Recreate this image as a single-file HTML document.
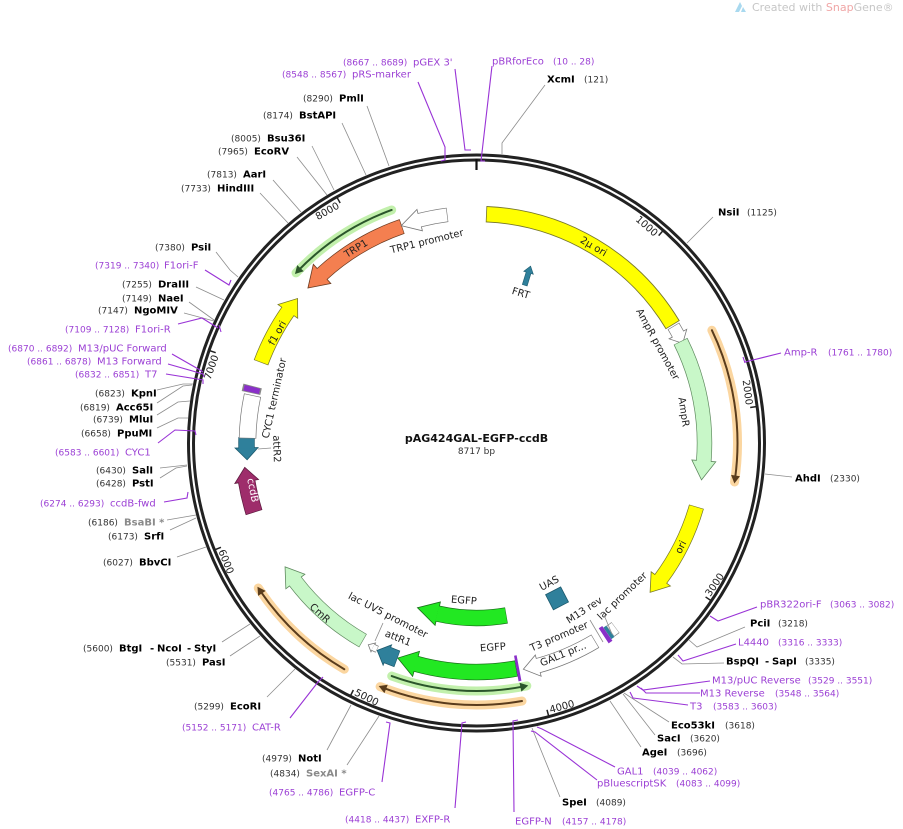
<!DOCTYPE html>
<html><head><meta charset="utf-8"><style>
html,body{margin:0;padding:0;background:#fff}
svg{display:block}
.n{font-size:9px;fill:#333}
.e{font-size:10px;font-weight:bold;fill:#000}
.g{font-size:10px;font-weight:bold;fill:#8a8a8a}
.p{font-size:10px;fill:#9b3fd4}
.q{font-size:9px;fill:#9b3fd4}
.f{font-size:10px;fill:#222}
.ln{stroke:#8c8c8c;stroke-width:0.8;fill:none}
.pl{stroke:#9933d6;stroke-width:1.1;fill:none}
</style></head><body>
<svg xmlns="http://www.w3.org/2000/svg" width="903" height="829" viewBox="0 0 903 829" font-family="'DejaVu Sans','Liberation Sans',sans-serif">
<rect width="903" height="829" fill="#fff"/>

<!-- watermark -->
<polygon points="735,12 740,2 742,6 739,12" fill="#a9d9ef"/>
<polygon points="741,12 743,7 746,12" fill="#a9d9ef"/>
<text x="752" y="11" font-size="11" fill="#c6c6c6">Created with <tspan fill="#f0a6a6">Snap</tspan>Gene®</text>

<!-- ring -->
<circle cx="476.5" cy="443" r="288" fill="none" stroke="#222" stroke-width="3"/>
<circle cx="476.5" cy="443" r="283" fill="none" stroke="#222" stroke-width="3"/>
<line x1="476.5" y1="159" x2="476.5" y2="170" stroke="#111" stroke-width="2.2"/>

<!-- ticks top -->
<g stroke="#222" stroke-width="1.5">
<g transform="rotate(41.3 476.5 443)"><line x1="476.5" y1="160" x2="476.5" y2="167"/></g>
<g transform="rotate(82.6 476.5 443)"><line x1="476.5" y1="160" x2="476.5" y2="167"/></g>
<g transform="rotate(289.1 476.5 443)"><line x1="476.5" y1="160" x2="476.5" y2="167"/></g>
<g transform="rotate(330.4 476.5 443)"><line x1="476.5" y1="160" x2="476.5" y2="167"/></g>
<g transform="rotate(-56.1 476.5 443)"><line x1="476.5" y1="726" x2="476.5" y2="719"/></g>
<g transform="rotate(-14.8 476.5 443)"><line x1="476.5" y1="726" x2="476.5" y2="719"/></g>
<g transform="rotate(26.5 476.5 443)"><line x1="476.5" y1="726" x2="476.5" y2="719"/></g>
<g transform="rotate(67.8 476.5 443)"><line x1="476.5" y1="726" x2="476.5" y2="719"/></g>
</g>
<g class="f">
<g transform="rotate(41.3 476.5 443)"><text x="474" y="171" text-anchor="end">1000</text></g>
<g transform="rotate(82.6 476.5 443)"><text x="474" y="171" text-anchor="end">2000</text></g>
<g transform="rotate(289.1 476.5 443)"><text x="474" y="171" text-anchor="end">7000</text></g>
<g transform="rotate(330.4 476.5 443)"><text x="474" y="171" text-anchor="end">8000</text></g>
<g transform="rotate(-56.1 476.5 443)"><text x="479" y="723">3000</text></g>
<g transform="rotate(-14.8 476.5 443)"><text x="479" y="723">4000</text></g>
<g transform="rotate(26.5 476.5 443)"><text x="479" y="723">5000</text></g>
<g transform="rotate(67.8 476.5 443)"><text x="479" y="723">6000</text></g>
</g>

<!-- highlight arcs -->
<g fill="none" stroke-linecap="round">
<circle cx="476.5" cy="443" r="261" pathLength="360" stroke="#fbd6a0" stroke-width="9" stroke-dasharray="34.2 720" transform="rotate(-25.6 476.5 443)"/>
<circle cx="476.5" cy="443" r="261" pathLength="360" stroke="#5a3c1c" stroke-width="2" stroke-dasharray="33.4 720" transform="rotate(-25.6 476.5 443)"/>
<circle cx="476.5" cy="443" r="262" pathLength="360" stroke="#fbd6a0" stroke-width="9" stroke-dasharray="31.6 720" transform="rotate(80 476.5 443)"/>
<circle cx="476.5" cy="443" r="262" pathLength="360" stroke="#5a3c1c" stroke-width="2" stroke-dasharray="30.8 720" transform="rotate(80 476.5 443)"/>
<circle cx="476.5" cy="443" r="262" pathLength="360" stroke="#fbd6a0" stroke-width="9" stroke-dasharray="26.1 720" transform="rotate(120.3 476.5 443)"/>
<circle cx="476.5" cy="443" r="262" pathLength="360" stroke="#5a3c1c" stroke-width="2" stroke-dasharray="25.3 720" transform="rotate(120.3 476.5 443)"/>
<circle cx="476.5" cy="443" r="248" pathLength="360" stroke="#c2f0ac" stroke-width="9" stroke-dasharray="31.7 720" transform="rotate(78.3 476.5 443)"/>
<circle cx="476.5" cy="443" r="248" pathLength="360" stroke="#2b552b" stroke-width="2" stroke-dasharray="31 720" transform="rotate(79 476.5 443)"/>
<circle cx="476.5" cy="443" r="248" pathLength="360" stroke="#c2f0ac" stroke-width="9" stroke-dasharray="26.7 720" transform="rotate(223.3 476.5 443)"/>
<circle cx="476.5" cy="443" r="248" pathLength="360" stroke="#2b552b" stroke-width="2" stroke-dasharray="26 720" transform="rotate(224 476.5 443)"/>
</g>
<g transform="rotate(98.6 476.5 443)"><polygon points="478,182 470,177.5 470,186.5" fill="#5a3c1c"/></g>
<g transform="rotate(201.6 476.5 443)"><polygon points="478,181 470,176.5 470,185.5" fill="#5a3c1c"/></g>
<g transform="rotate(236.4 476.5 443)"><polygon points="478,181 470,176.5 470,185.5" fill="#5a3c1c"/></g>
<g transform="rotate(168.3 476.5 443)"><polygon points="475,195 483,190.5 483,199.5" fill="#2b552b"/></g>
<g transform="rotate(313.3 476.5 443)"><polygon points="475,195 483,190.5 483,199.5" fill="#2b552b"/></g>

<!-- features -->
<g fill="none">
<!-- 2u ori -->
<circle cx="476.5" cy="443" r="229" pathLength="360" stroke="#77772a" stroke-width="16.4" stroke-dasharray="56.6 720" transform="rotate(-87.6 476.5 443)"/>
<circle cx="476.5" cy="443" r="229" pathLength="360" stroke="#ffff00" stroke-width="14.6" stroke-dasharray="56.2 720" transform="rotate(-87.4 476.5 443)"/>
</g>
<!-- AmpR promoter -->
<g transform="rotate(61.6 476.5 443)"><polygon points="476.5,204 476.5,224 486.9,214.2" fill="#fff" stroke="#777" stroke-width="0.8"/></g>
<circle cx="476.5" cy="443" r="229" pathLength="360" fill="none" stroke="#777" stroke-width="13.4" stroke-dasharray="2.4 720" transform="rotate(-30.7 476.5 443)"/>
<circle cx="476.5" cy="443" r="229" pathLength="360" fill="none" stroke="#fff" stroke-width="12" stroke-dasharray="2.4 720" transform="rotate(-30.55 476.5 443)"/>
<!-- AmpR -->
<g transform="rotate(94.5 476.5 443)"><polygon points="476.5,203 476.5,227 495.6,215.8" fill="#c8f7c8" stroke="#5f8a5f" stroke-width="0.8"/></g>
<circle cx="476.5" cy="443" r="228" pathLength="360" fill="none" stroke="#5f8a5f" stroke-width="15.4" stroke-dasharray="31 720" transform="rotate(-26.5 476.5 443)"/>
<circle cx="476.5" cy="443" r="228" pathLength="360" fill="none" stroke="#c8f7c8" stroke-width="14" stroke-dasharray="31.05 720" transform="rotate(-26.35 476.5 443)"/>
<!-- ori -->
<g transform="rotate(126.4 476.5 443)"><polygon points="476.5,202 476.5,226 493.7,214.65" fill="#ffff00" stroke="#77772a" stroke-width="0.8"/></g>
<circle cx="476.5" cy="443" r="229" pathLength="360" fill="none" stroke="#77772a" stroke-width="15.4" stroke-dasharray="20.25 720" transform="rotate(16.15 476.5 443)"/>
<circle cx="476.5" cy="443" r="229" pathLength="360" fill="none" stroke="#ffff00" stroke-width="14" stroke-dasharray="20.3 720" transform="rotate(16.3 476.5 443)"/>
<!-- GAL1 pr -->
<g transform="rotate(164.5 476.5 443)"><polygon points="476.5,201 476.5,223 491.8,212.5" fill="#fff" stroke="#777" stroke-width="0.8"/></g>
<circle cx="476.5" cy="443" r="231" pathLength="360" fill="none" stroke="#777" stroke-width="15.4" stroke-dasharray="15.45 720" transform="rotate(59.05 476.5 443)"/>
<circle cx="476.5" cy="443" r="231" pathLength="360" fill="none" stroke="#fff" stroke-width="14" stroke-dasharray="15.5 720" transform="rotate(59.2 476.5 443)"/>
<!-- small features near 145 -->
<circle cx="476.5" cy="443" r="231" pathLength="360" fill="none" stroke="#888" stroke-width="13.4" stroke-dasharray="1.6 720" transform="rotate(53 476.5 443)"/>
<circle cx="476.5" cy="443" r="231" pathLength="360" fill="none" stroke="#fff" stroke-width="12" stroke-dasharray="1.4 720" transform="rotate(53.1 476.5 443)"/>
<circle cx="476.5" cy="443" r="231" pathLength="360" fill="none" stroke="#2f809b" stroke-width="14" stroke-dasharray="0.9 720" transform="rotate(54.6 476.5 443)"/>
<circle cx="476.5" cy="443" r="231" pathLength="360" fill="none" stroke="#8a2fc9" stroke-width="18" stroke-dasharray="1.1 720" transform="rotate(55.5 476.5 443)"/>
<!-- EGFP outer -->
<g transform="rotate(195.3 476.5 443)"><polygon points="476.5,201 476.5,227 495.7,214.8" fill="#22e822" stroke="#1a701a" stroke-width="0.8"/></g>
<circle cx="476.5" cy="443" r="229" pathLength="360" fill="none" stroke="#1a701a" stroke-width="16.4" stroke-dasharray="25.35 720" transform="rotate(79.95 476.5 443)"/>
<circle cx="476.5" cy="443" r="229" pathLength="360" fill="none" stroke="#22e822" stroke-width="15" stroke-dasharray="25.4 720" transform="rotate(80.1 476.5 443)"/>
<circle cx="476.5" cy="443" r="229" pathLength="360" fill="none" stroke="#8a2fc9" stroke-width="26" stroke-dasharray="0.7 720" transform="rotate(79.3 476.5 443)"/>
<!-- attR1 -->
<g transform="rotate(202.8 476.5 443)"><polygon points="476.5,202 476.5,224 487.7,213.3" fill="#2f809b" stroke="#1d5a6e" stroke-width="0.8"/></g>
<circle cx="476.5" cy="443" r="230" pathLength="360" fill="none" stroke="#1d5a6e" stroke-width="17.4" stroke-dasharray="2.65 720" transform="rotate(110.15 476.5 443)"/>
<circle cx="476.5" cy="443" r="230" pathLength="360" fill="none" stroke="#2f809b" stroke-width="16" stroke-dasharray="2.7 720" transform="rotate(110.3 476.5 443)"/>
<!-- lac UV5 promoter -->
<g transform="rotate(206.8 476.5 443)"><polygon points="476.5,209 476.5,219 482.1,214.1" fill="#fff" stroke="#777" stroke-width="0.8"/></g>
<circle cx="476.5" cy="443" r="229" pathLength="360" fill="none" stroke="#777" stroke-width="7.4" stroke-dasharray="1.1 720" transform="rotate(115.7 476.5 443)"/>
<circle cx="476.5" cy="443" r="229" pathLength="360" fill="none" stroke="#fff" stroke-width="6" stroke-dasharray="1.1 720" transform="rotate(115.8 476.5 443)"/>
<!-- CmR -->
<g transform="rotate(232.6 476.5 443)"><polygon points="476.5,203 476.5,227 494.4,215.7" fill="#c8f7c8" stroke="#5f8a5f" stroke-width="0.8"/></g>
<circle cx="476.5" cy="443" r="228" pathLength="360" fill="none" stroke="#5f8a5f" stroke-width="15.4" stroke-dasharray="22.75 720" transform="rotate(119.85 476.5 443)"/>
<circle cx="476.5" cy="443" r="228" pathLength="360" fill="none" stroke="#c8f7c8" stroke-width="14" stroke-dasharray="22.8 720" transform="rotate(120 476.5 443)"/>
<!-- ccdB -->
<g transform="rotate(260.5 476.5 443)"><polygon points="476.5,198 476.5,222 490.7,210.4" fill="#9e2d6b" stroke="#5c1a3e" stroke-width="0.8"/></g>
<circle cx="476.5" cy="443" r="233" pathLength="360" fill="none" stroke="#5c1a3e" stroke-width="17.4" stroke-dasharray="7.85 720" transform="rotate(162.65 476.5 443)"/>
<circle cx="476.5" cy="443" r="233" pathLength="360" fill="none" stroke="#9e2d6b" stroke-width="16" stroke-dasharray="7.9 720" transform="rotate(162.8 476.5 443)"/>
<!-- attR2 -->
<g transform="rotate(268.8 476.5 443)"><polygon points="476.5,201.5 476.5,224.5 464.5,213.3" fill="#2f809b" stroke="#1d5a6e" stroke-width="0.8"/></g>
<circle cx="476.5" cy="443" r="230" pathLength="360" fill="none" stroke="#1d5a6e" stroke-width="16.4" stroke-dasharray="2.65 720" transform="rotate(178.8 476.5 443)"/>
<circle cx="476.5" cy="443" r="230" pathLength="360" fill="none" stroke="#2f809b" stroke-width="15" stroke-dasharray="2.7 720" transform="rotate(178.6 476.5 443)"/>
<!-- CYC1 terminator -->
<circle cx="476.5" cy="443" r="229" pathLength="360" fill="none" stroke="#777" stroke-width="17.4" stroke-dasharray="10.9 720" transform="rotate(181.15 476.5 443)"/>
<circle cx="476.5" cy="443" r="229" pathLength="360" fill="none" stroke="#fff" stroke-width="16" stroke-dasharray="10.6 720" transform="rotate(181.3 476.5 443)"/>
<circle cx="476.5" cy="443" r="231" pathLength="360" fill="none" stroke="#888" stroke-width="19" stroke-dasharray="1.8 720" transform="rotate(192.5 476.5 443)"/>
<circle cx="476.5" cy="443" r="231" pathLength="360" fill="none" stroke="#8a2fc9" stroke-width="16" stroke-dasharray="1.4 720" transform="rotate(192.7 476.5 443)"/>
<!-- f1 ori -->
<g transform="rotate(304.9 476.5 443)"><polygon points="476.5,201 476.5,225 492.6,213.6" fill="#ffff00" stroke="#77772a" stroke-width="0.8"/></g>
<circle cx="476.5" cy="443" r="230" pathLength="360" fill="none" stroke="#77772a" stroke-width="15.4" stroke-dasharray="14.45 720" transform="rotate(200.45 476.5 443)"/>
<circle cx="476.5" cy="443" r="230" pathLength="360" fill="none" stroke="#ffff00" stroke-width="14" stroke-dasharray="14.5 720" transform="rotate(200.6 476.5 443)"/>
<!-- TRP1 -->
<g transform="rotate(317.6 476.5 443)"><polygon points="476.5,201 476.5,227 456.5,214.9" fill="#f47f50" stroke="#6a3a20" stroke-width="0.8"/></g>
<circle cx="476.5" cy="443" r="229" pathLength="360" fill="none" stroke="#6a3a20" stroke-width="15.4" stroke-dasharray="23.45 720" transform="rotate(227.6 476.5 443)"/>
<circle cx="476.5" cy="443" r="229" pathLength="360" fill="none" stroke="#f47f50" stroke-width="14" stroke-dasharray="23.5 720" transform="rotate(227.4 476.5 443)"/>
<!-- TRP1 promoter -->
<g transform="rotate(345.7 476.5 443)"><polygon points="476.5,202 476.5,224 457.2,213.8" fill="#fff" stroke="#777" stroke-width="0.8"/></g>
<circle cx="476.5" cy="443" r="230" pathLength="360" fill="none" stroke="#777" stroke-width="14.4" stroke-dasharray="7.05 720" transform="rotate(255.7 476.5 443)"/>
<circle cx="476.5" cy="443" r="230" pathLength="360" fill="none" stroke="#fff" stroke-width="13" stroke-dasharray="7.1 720" transform="rotate(255.5 476.5 443)"/>
<!-- EGFP inner -->
<g transform="rotate(192.8 476.5 443)"><polygon points="476.5,256 476.5,280 497.6,269.3" fill="#22e822" stroke="#1a701a" stroke-width="0.8"/></g>
<circle cx="476.5" cy="443" r="175" pathLength="360" fill="none" stroke="#1a701a" stroke-width="16.4" stroke-dasharray="22.65 720" transform="rotate(80.15 476.5 443)"/>
<circle cx="476.5" cy="443" r="175" pathLength="360" fill="none" stroke="#22e822" stroke-width="15" stroke-dasharray="22.7 720" transform="rotate(80.3 476.5 443)"/>
<!-- UAS -->
<g transform="rotate(152.6 476.5 443)"><rect x="468" y="259.5" width="17" height="17" fill="#2f809b" stroke="#1d5a6e" stroke-width="0.8"/></g>
<!-- FRT -->
<g transform="rotate(17 476.5 443)"><polygon points="474,278 479,278 479,265 481.5,265 476.5,258 471.5,265 474,265" fill="#2f809b" stroke="#1d5a6e" stroke-width="0.6"/></g>

<!-- feature labels -->
<g class="f" text-anchor="middle">
<g transform="rotate(30.8 476.5 443)"><text x="476.5" y="217.5">2μ ori</text></g>
<g transform="rotate(61.4 476.5 443)"><text x="476.5" y="239.8">AmpR promoter</text></g>
<g transform="rotate(81.5 476.5 443)"><text x="476.5" y="236.7">AmpR</text></g>
<g transform="rotate(-63 476.5 443)"><text x="476.5" y="675.5">ori</text></g>
<g transform="rotate(-22.3 476.5 443)"><text x="476.5" y="674.5">GAL1 pr...</text></g>
<g transform="rotate(-23.1 476.5 443)"><text x="476.5" y="656.5">T3 promoter</text></g>
<g transform="rotate(-32.8 476.5 443)"><text x="476.5" y="645.1">M13 rev</text></g>
<g transform="rotate(-43.6 476.5 443)"><text x="476.5" y="657.5">lac promoter</text></g>
<g transform="rotate(-27.4 476.5 443)"><text x="476.5" y="604.2">UAS</text></g>
<g transform="rotate(-4.6 476.5 443)"><text x="476.5" y="651.2">EGFP</text></g>
<g transform="rotate(4.6 476.5 443)"><text x="476.5" y="604">EGFP</text></g>
<g transform="rotate(21.9 476.5 443)"><text x="476.5" y="656.5">attR1</text></g>
<g transform="rotate(27.2 476.5 443)"><text x="476.5" y="639.9">lac UV5 promoter</text></g>
<g transform="rotate(42.6 476.5 443)"><text x="476.5" y="677.5">CmR</text></g>
<g transform="rotate(78.1 476.5 443)"><text x="476.5" y="674.9" fill="#fff">ccdB</text></g>
<g transform="rotate(88.3 476.5 443)"><text x="476.5" y="646.1">attR2</text></g>
<g transform="rotate(-77.5 476.5 443)"><text x="476.5" y="239.1">CYC1 terminator</text></g>
<g transform="rotate(-61.1 476.5 443)"><text x="476.5" y="218.7">f1 ori</text></g>
<g transform="rotate(-31.8 476.5 443)"><text x="476.5" y="217.5">TRP1</text></g>
<g transform="rotate(-13.8 476.5 443)"><text x="476.5" y="238.5">TRP1 promoter</text></g>
<g transform="rotate(16.5 476.5 443)"><text x="476.5" y="290">FRT</text></g>
</g>
<g class="ln">
<path d="M258,449 L271,448"/>
<path d="M383,623 L375,641"/>
<path d="M590,620 L603,642"/>
<path d="M604,615 L612,634"/>
</g>

<!-- center -->
<text x="476.5" y="442" text-anchor="middle" font-size="11" font-weight="bold" fill="#111">pAG424GAL-EGFP-ccdB</text>
<text x="476.5" y="454" text-anchor="middle" font-size="9" fill="#333">8717 bp</text>

<!-- enzyme lines -->
<g class="ln">
<path d="M545,85 L502,143 L502,154"/>
<path d="M713,217 L687,243"/>
<path d="M792,477 L765,474"/>
<path d="M745,627 L697,647 L689,640"/>
<path d="M724,663 L682,664 L673,657"/>
<path d="M669,722 L624,693"/>
<path d="M655,735 L623,694"/>
<path d="M641,747 L610,701"/>
<path d="M560,797 L534,733 L532,728"/>
<path d="M327,750 L351,705"/>
<path d="M347,765 L379,716"/>
<path d="M267,697 L295,669"/>
<path d="M230,656 L260,636"/>
<path d="M222,642 L250,624"/>
<path d="M177,557 L206,547"/>
<path d="M170,530 L196,518"/>
<path d="M167,520 L196,515"/>
<path d="M160,478 L176,468 L187,466"/>
<path d="M160,468 L187,465"/>
<path d="M157,428 L178,418 L188,418"/>
<path d="M157,415 L178,402 L190,401"/>
<path d="M157,403 L183,386 L192,385"/>
<path d="M157,390 L183,384 L193,384"/>
<path d="M184,313 L214,321"/>
<path d="M189,302 L214,320"/>
<path d="M196,287 L224,300"/>
<path d="M216,252 L230,270 L238,277"/>
<path d="M260,193 L288,223"/>
<path d="M273,180 L301,212"/>
<path d="M297,157 L327,195"/>
<path d="M312,146 L334,190"/>
<path d="M342,123 L366,175"/>
<path d="M367,106 L389,166"/>
</g>

<!-- primer lines -->
<g class="pl">
<path d="M455,69 L465,150 L471,150"/>
<path d="M418,82 L445,147 L445,160 L441,161"/>
<path d="M492,66 L481,161 L485,161"/>
<path d="M781,353 L745,362 M743,357 L745,363"/>
<path d="M757,607 L718,621 L710,616"/>
<path d="M736,644 L683,661 L678,655"/>
<path d="M710,681 L643,690 L637,686"/>
<path d="M700,693 L646,693 L641,688"/>
<path d="M688,705 L633,698 L630,692"/>
<path d="M615,767 L542,729 L537,727"/>
<path d="M597,780 L535,732 L531,731"/>
<path d="M514,812 L513,721 L518,720"/>
<path d="M455,808 L462,723 L466,722"/>
<path d="M382,782 L390,723 L386,722"/>
<path d="M290,718 L318,682 L323,677"/>
<path d="M164,502 L187,498 L188,492"/>
<path d="M158,443 L175,430 L195,431 L196,435"/>
<path d="M166,374 L203,380 L203,384"/>
<path d="M168,364 L203,374 L204,377"/>
<path d="M172,354 L200,370 L203,372"/>
<path d="M178,324 L202,318 L218,328 M219,325 L221,332"/>
<path d="M205,270 L229,285 L231,280"/>
</g>

<!-- labels top-left -->
<text class="q" x="343" y="65.5">(8667 .. 8689)</text><text class="p" x="413" y="65.5">pGEX 3'</text>
<text class="q" x="282" y="77.5">(8548 .. 8567)</text><text class="p" x="352" y="77.5">pRS-marker</text>
<text class="n" x="303" y="101.5">(8290)</text><text class="e" x="339" y="101.5">PmlI</text>
<text class="n" x="263" y="118.5">(8174)</text><text class="e" x="299" y="118.5">BstAPI</text>
<text class="n" x="231" y="141.5">(8005)</text><text class="e" x="267" y="141.5">Bsu36I</text>
<text class="n" x="218" y="154.5">(7965)</text><text class="e" x="254" y="154.5">EcoRV</text>
<text class="n" x="207" y="177.5">(7813)</text><text class="e" x="243" y="177.5">AarI</text>
<text class="n" x="181" y="191.5">(7733)</text><text class="e" x="217" y="191.5">HindIII</text>
<text class="n" x="155" y="250.5">(7380)</text><text class="e" x="191" y="250.5">PsiI</text>
<text class="q" x="95" y="268.5">(7319 .. 7340)</text><text class="p" x="164" y="268.5">F1ori-F</text>

<!-- labels top-right -->
<text class="p" x="492" y="64.5">pBRforEco</text><text class="q" x="553" y="64.5">(10 .. 28)</text>
<text class="e" x="547" y="82.5">XcmI</text><text class="n" x="584" y="82.5">(121)</text>
<text class="e" x="718" y="215.5">NsiI</text><text class="n" x="747" y="215.5">(1125)</text>
<text class="p" x="784" y="355.5">Amp-R</text><text class="q" x="828" y="355.5">(1761 .. 1780)</text>
<text class="e" x="795" y="481.5">AhdI</text><text class="n" x="830" y="481.5">(2330)</text>

<!-- labels bottom-right -->
<text class="p" x="760" y="607.5">pBR322ori-F</text><text class="q" x="830" y="607.5">(3063 .. 3082)</text>
<text class="e" x="750" y="626.5">PciI</text><text class="n" x="778" y="626.5">(3218)</text>
<text class="p" x="738" y="645.5">L4440</text><text class="q" x="778" y="645.5">(3316 .. 3333)</text>
<text class="e" x="726" y="664.5">BspQI</text><text class="e" x="765" y="664.5">-</text><text class="e" x="772" y="664.5">SapI</text><text class="n" x="805" y="664.5">(3335)</text>
<text class="p" x="712" y="683.5">M13/pUC Reverse</text><text class="q" x="808" y="683.5">(3529 .. 3551)</text>
<text class="p" x="700" y="696.5">M13 Reverse</text><text class="q" x="775" y="696.5">(3548 .. 3564)</text>
<text class="p" x="690" y="709.5">T3</text><text class="q" x="713" y="709.5">(3583 .. 3603)</text>
<text class="e" x="671" y="728.5">Eco53kI</text><text class="n" x="725" y="728.5">(3618)</text>
<text class="e" x="657" y="741.5">SacI</text><text class="n" x="690" y="741.5">(3620)</text>
<text class="e" x="642" y="755.5">AgeI</text><text class="n" x="677" y="755.5">(3696)</text>
<text class="p" x="617" y="774.5">GAL1</text><text class="q" x="653" y="774.5">(4039 .. 4062)</text>
<text class="p" x="597" y="786.5">pBluescriptSK</text><text class="q" x="676" y="786.5">(4083 .. 4099)</text>
<text class="e" x="562" y="805.5">SpeI</text><text class="n" x="596" y="805.5">(4089)</text>
<text class="p" x="515" y="824.5">EGFP-N</text><text class="q" x="562" y="824.5">(4157 .. 4178)</text>

<!-- labels bottom-left -->
<text class="q" x="345" y="822.5">(4418 .. 4437)</text><text class="p" x="415" y="822.5">EXFP-R</text>
<text class="q" x="269" y="795.5">(4765 .. 4786)</text><text class="p" x="339" y="795.5">EGFP-C</text>
<text class="n" x="270" y="776.5">(4834)</text><text class="g" x="306" y="776.5">SexAI *</text>
<text class="n" x="262" y="761.5">(4979)</text><text class="e" x="298" y="761.5">NotI</text>
<text class="q" x="182" y="730.5">(5152 .. 5171)</text><text class="p" x="252" y="730.5">CAT-R</text>
<text class="n" x="194" y="709.5">(5299)</text><text class="e" x="230" y="709.5">EcoRI</text>
<text class="n" x="166" y="665.5">(5531)</text><text class="e" x="202" y="665.5">PasI</text>
<text class="n" x="83" y="651.5">(5600)</text><text class="e" x="119" y="651.5">BtgI</text><text class="e" x="150" y="651.5">-</text><text class="e" x="157" y="651.5">NcoI</text><text class="e" x="187" y="651.5">-</text><text class="e" x="194" y="651.5">StyI</text>
<text class="n" x="103" y="565.5">(6027)</text><text class="e" x="139" y="565.5">BbvCI</text>

<!-- labels left -->
<text class="n" x="108" y="539.5">(6173)</text><text class="e" x="144" y="539.5">SrfI</text>
<text class="n" x="88" y="525.5">(6186)</text><text class="g" x="124" y="525.5">BsaBI *</text>
<text class="q" x="40" y="506.5">(6274 .. 6293)</text><text class="p" x="110" y="506.5">ccdB-fwd</text>
<text class="n" x="96" y="486.5">(6428)</text><text class="e" x="132" y="486.5">PstI</text>
<text class="n" x="96" y="473.5">(6430)</text><text class="e" x="132" y="473.5">SalI</text>
<text class="q" x="55" y="455.5">(6583 .. 6601)</text><text class="p" x="125" y="455.5">CYC1</text>
<text class="n" x="81" y="436.5">(6658)</text><text class="e" x="117" y="436.5">PpuMI</text>
<text class="n" x="93" y="422.5">(6739)</text><text class="e" x="129" y="422.5">MluI</text>
<text class="n" x="80" y="410.5">(6819)</text><text class="e" x="116" y="410.5">Acc65I</text>
<text class="n" x="95" y="396.5">(6823)</text><text class="e" x="131" y="396.5">KpnI</text>
<text class="q" x="75" y="377.5">(6832 .. 6851)</text><text class="p" x="145" y="377.5">T7</text>
<text class="q" x="27" y="364.5">(6861 .. 6878)</text><text class="p" x="97" y="364.5">M13 Forward</text>
<text class="q" x="8" y="351.5">(6870 .. 6892)</text><text class="p" x="78" y="351.5">M13/pUC Forward</text>
<text class="q" x="65" y="332.5">(7109 .. 7128)</text><text class="p" x="135" y="332.5">F1ori-R</text>
<text class="n" x="98" y="313.5">(7147)</text><text class="e" x="134" y="313.5">NgoMIV</text>
<text class="n" x="122" y="301.5">(7149)</text><text class="e" x="158" y="301.5">NaeI</text>
<text class="n" x="122" y="287.5">(7255)</text><text class="e" x="158" y="287.5">DraIII</text>
</svg>
</body></html>
